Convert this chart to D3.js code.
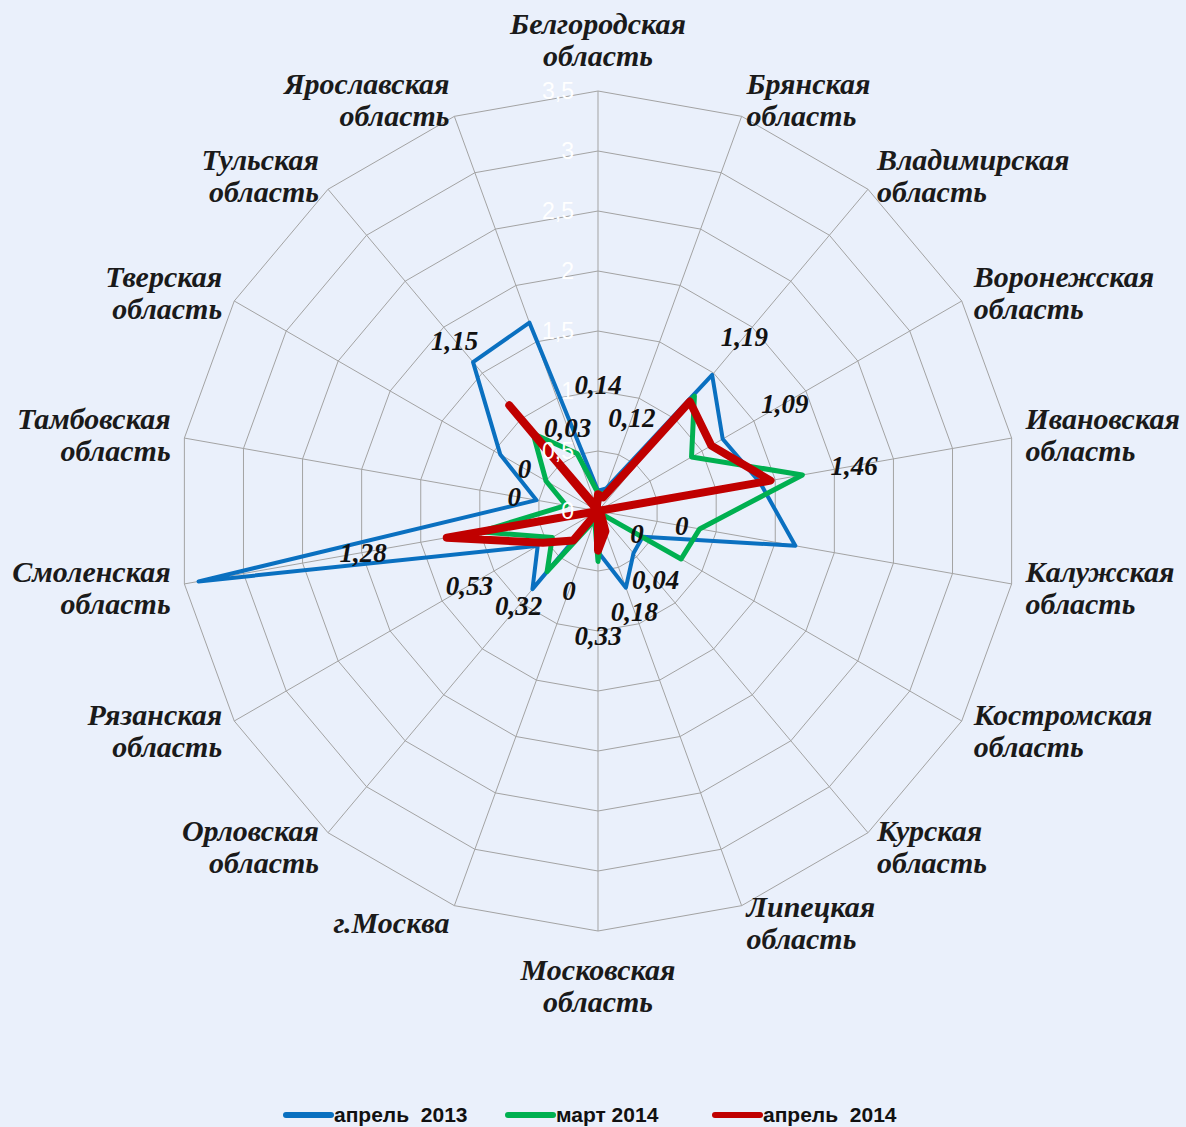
<!DOCTYPE html>
<meta charset="utf-8">
<style>
body { margin: 0; background: #eaf0fb; }
svg { display: block; }
.region { font-family: "Liberation Serif", "Times New Roman", serif; font-weight: bold; font-style: italic; font-size: 30px; fill: #1a1a1a; }
.val { font-family: "Liberation Serif", "Times New Roman", serif; font-weight: bold; font-style: italic; font-size: 27px; fill: #111; }
.tick { font-family: "Liberation Sans", Arial, sans-serif; font-size: 23px; fill: #fff; }
.legend { font-family: "Liberation Sans", Arial, sans-serif; font-weight: bold; font-size: 21px; fill: #111; }
</style>
<body>
<svg id="chart" width="1186" height="1127"></svg>
</body>
<script src="https://d3js.org/d3.v7.min.js"></script>
<script>
// regions, clockwise from the top
var regions = [
  "Белгородская|область", "Брянская|область", "Владимирская|область", "Воронежская|область",
  "Ивановская|область", "Калужская|область", "Костромская|область", "Курская|область",
  "Липецкая|область", "Московская|область", "г.Москва", "Орловская|область",
  "Рязанская|область", "Смоленская|область", "Тамбовская|область", "Тверская|область",
  "Тульская|область", "Ярославская|область"
];

var apr2013 = [0.17, 0.2, 1.48, 1.2, 1.37, 1.67, 0.43, 0.46, 0.68, 0.34, 0, 0.85, 0.58, 3.38, 0.52, 0.94, 1.62, 1.67];
var mar2014 = [0.15, 0.15, 1.25, 0.9, 1.73, 0.86, 0.8, 0.02, 0.12, 0.42, 0.08, 0.66, 0.44, 1.0, 0.27, 0.5, 0.84, 0.51];
var apr2014 = [0.14, 0.12, 1.19, 1.09, 1.46, 0, 0, 0.04, 0.18, 0.33, 0, 0.32, 0.53, 1.28, 0, 0, 1.15, 0.03];

var ticks = [0, 0.5, 1, 1.5, 2, 2.5, 3, 3.5];

var seriesNames = ["апрель  2013", "март 2014", "апрель  2014"];
var seriesColors = ["#0a70c0", "#00b050", "#c00000"];
var seriesWidths = [4, 5, 8];

var svg = d3.select("#chart"),
  cx = 598, cy = 511,
  radius = 420,
  n = regions.length,
  step = 2 * Math.PI / n;

var r = d3.scaleLinear().domain([0, 3.5]).range([0, radius]);
var g = svg.append("g").attr("transform", "translate(" + cx + "," + cy + ")");

function px(a, rr) { return rr * Math.sin(a); }
function py(a, rr) { return -rr * Math.cos(a); }

// grid rings
var ring = d3.lineRadial()
  .angle(function(d, i) { return i * step; })
  .radius(function(d) { return r(d); })
  .curve(d3.curveLinearClosed);

g.selectAll(".ring").data(ticks.slice(1)).enter().append("path")
  .attr("d", function(t) { return ring(regions.map(function() { return t; })); })
  .attr("fill", "none").attr("stroke", "#a3a3a3").attr("stroke-width", 1);

g.selectAll(".spoke").data(regions).enter().append("line")
  .attr("x1", 0).attr("y1", 0)
  .attr("x2", function(d, i) { return px(i * step, radius); })
  .attr("y2", function(d, i) { return py(i * step, radius); })
  .attr("stroke", "#a3a3a3").attr("stroke-width", 1);

// series
var line = d3.lineRadial()
  .angle(function(d, i) { return i * step; })
  .radius(function(d) { return r(d); })
  .curve(d3.curveLinearClosed);

[apr2013, mar2014, apr2014].forEach(function(s, k) {
  g.append("path").attr("d", line(s))
    .attr("fill", "none")
    .attr("stroke", seriesColors[k])
    .attr("stroke-width", seriesWidths[k])
    .attr("stroke-linejoin", "round");
});

// tick labels (white, over the top spoke)
g.selectAll(".tick").data(ticks).enter().append("text")
  .attr("class", "tick")
  .attr("x", -24).attr("y", function(t) { return -r(t); })
  .attr("dy", "0.35em")
  .attr("text-anchor", "end")
  .text(function(t) { return String(t).replace(".", ","); });

// data labels for апрель 2014, pushed out along their spoke
// (Белгородская sits a bit further out, Костромская closer in, as in the original)
function labelGap(i) { return i === 0 ? 110 : (i === 6 ? 45 : 85); }

g.selectAll(".val").data(apr2014).enter().append("text")
  .attr("class", "val")
  .attr("x", function(d, i) { return px(i * step, r(d) + labelGap(i)); })
  .attr("y", function(d, i) { return py(i * step, r(d) + labelGap(i)); })
  .attr("dy", "0.35em")
  .attr("text-anchor", "middle")
  .text(function(d) { return String(d).replace(".", ","); });

// region labels
regions.forEach(function(name, i) {
  var a = i * step,
    s = Math.sin(a), c = Math.cos(a),
    lines = name.split("|"),
    lh = 32,
    x, y, anchor;
  if (Math.abs(s) < 0.01) {
    anchor = "middle";
    x = 0;
    y = c > 0 ? -radius - 52 : radius + 54;
  } else {
    anchor = s > 0 ? "start" : "end";
    x = px(a, radius + 14);
    y = py(a, radius) - c * 18;
  }
  var t = g.append("text").attr("class", "region")
    .attr("text-anchor", anchor)
    .attr("x", x)
    .attr("y", y - (lines.length - 1) * lh / 2);
  lines.forEach(function(l, j) {
    t.append("tspan").attr("x", x).attr("dy", j === 0 ? "0.35em" : lh).text(l);
  });
});

// legend
var lg = svg.append("g").attr("transform", "translate(0,1115)");
var legendX = [283, 505, 712];
seriesNames.forEach(function(name, k) {
  lg.append("line")
    .attr("x1", legendX[k] + 3).attr("x2", legendX[k] + 48)
    .attr("y1", 0).attr("y2", 0)
    .attr("stroke", seriesColors[k]).attr("stroke-width", 6)
    .attr("stroke-linecap", "round");
  lg.append("text").attr("class", "legend")
    .attr("x", legendX[k] + 51).attr("y", 0).attr("dy", "0.35em")
    .style("white-space", "pre")
    .text(name);
});
</script>
